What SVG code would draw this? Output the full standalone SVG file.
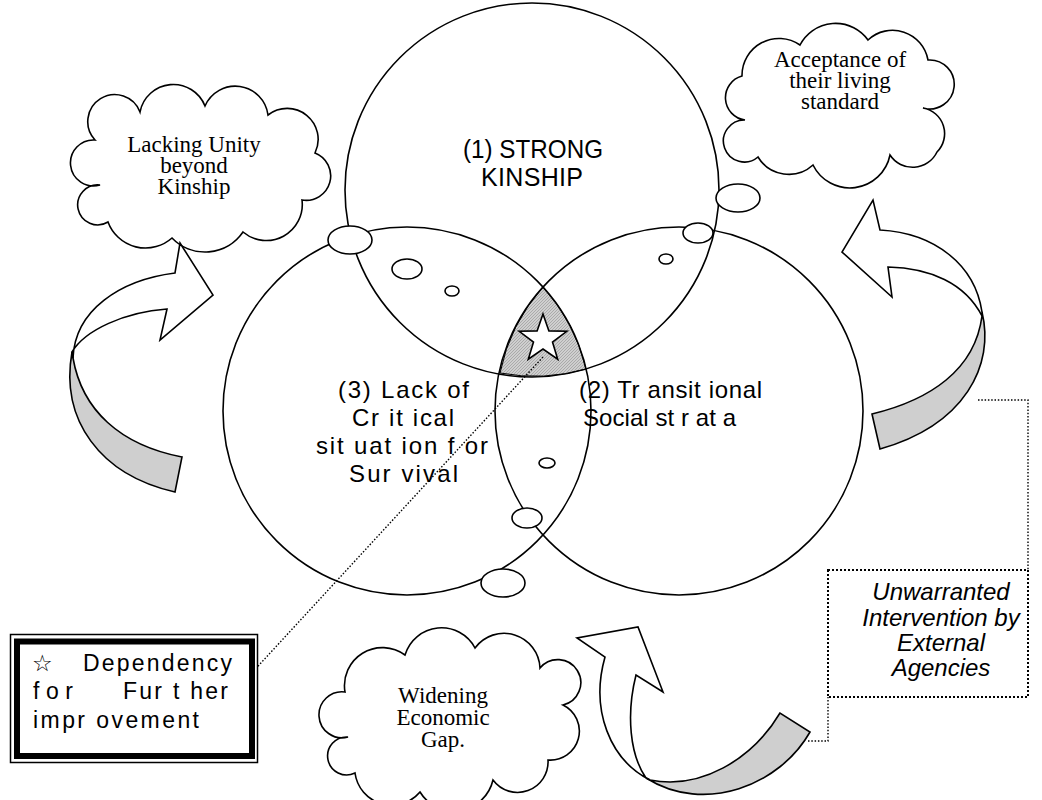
<svg xmlns="http://www.w3.org/2000/svg" width="1042" height="800" viewBox="0 0 1042 800">
<defs>
<pattern id="hatch" width="3" height="3" patternUnits="userSpaceOnUse">
<rect width="3" height="3" fill="#cfcfcf"/>
<path d="M0,3 L3,0" stroke="#9a9a9a" stroke-width="0.7"/>
</pattern>
<style>
.ln{fill:none;stroke:#000;stroke-width:1.6}
.wf{fill:#fff;stroke:#000;stroke-width:1.6}
.gb{fill:#cfcfcf;stroke:#000;stroke-width:1.6}
.dot{fill:none;stroke:#000;stroke-width:1.4;stroke-dasharray:1.5,1.8}
.dbox{fill:none;stroke:#000;stroke-width:2;stroke-dasharray:2,2}
.sans{font-family:"Liberation Sans",Arial,sans-serif;fill:#000}
.serif{font-family:"Liberation Serif","Times New Roman",serif;font-size:23px;fill:#000;text-anchor:middle}
.lbl{font-size:24px}
</style>
</defs>
<rect width="1042" height="800" fill="#fff"/>

<path id="core" d="M543,287 A184,184 0 0 0 500,373 A187,187 0 0 0 586,369 A184,184 0 0 0 543,287 Z" fill="url(#hatch)" stroke="#000" stroke-width="1"/>

<g id="circle1">
<circle class="ln" cx="532" cy="190" r="187"/>
<text class="sans" font-size="25" x="463" y="158" textLength="140" lengthAdjust="spacingAndGlyphs">(1) STRONG</text>
<text class="sans" font-size="25" x="481" y="186" textLength="102" lengthAdjust="spacing">KINSHIP</text>
</g>
<g id="circle2">
<circle class="ln" cx="679" cy="411" r="184"/>
<text class="sans lbl" x="579" y="398" textLength="183" lengthAdjust="spacing">(2) Tr ansit ional</text>
<text class="sans lbl" x="583" y="426" textLength="153" lengthAdjust="spacing">Social st r at a</text>
</g>
<g id="circle3">
<circle class="ln" cx="407" cy="411" r="184"/>
<text class="sans lbl" x="338" y="398" textLength="131" lengthAdjust="spacing">(3) Lack of</text>
<text class="sans lbl" x="352" y="426" textLength="102" lengthAdjust="spacing">Cr it ical</text>
<text class="sans lbl" x="316" y="454" textLength="172" lengthAdjust="spacing">sit uat ion f or</text>
<text class="sans lbl" x="349" y="482" textLength="109" lengthAdjust="spacing">Sur vival</text>
</g>

<g id="star">
<polygon class="wf" points="543,314 548.9,330.9 566.8,331.3 552.5,342.1 557.7,359.2 543,349 528.3,359.2 533.5,342.1 519.2,331.3 537.1,330.9"/>
</g>

<g id="bubbles">
<ellipse class="wf" cx="350" cy="240" rx="22" ry="14"/>
<ellipse class="wf" cx="407" cy="269" rx="15" ry="10"/>
<ellipse class="wf" cx="452" cy="291" rx="7" ry="5"/>
<ellipse class="wf" cx="738" cy="198" rx="22" ry="14"/>
<ellipse class="wf" cx="698" cy="233" rx="15" ry="10"/>
<ellipse class="wf" cx="666" cy="259" rx="7" ry="5"/>
<ellipse class="wf" cx="547" cy="463" rx="8" ry="5"/>
<ellipse class="wf" cx="527" cy="518" rx="15" ry="10"/>
<ellipse class="wf" cx="503" cy="583" rx="22" ry="14"/>
</g>

<g id="cloud-lacking">
<path class="wf" d="M95,140 A27,27 0 1,1 140,112 A34,34 0 0,1 205,106 A33,33 0 0,1 268,115 A31,31 0 0,1 315,153 A24.5,24.5 0 0,1 302,200 A36,36 0 0,1 243,232 A46,46 0 0,1 172,238 A40,40 0 0,1 108,222 A20,20 0 1,1 100,185 A23,23 0 1,1 95,140 Z"/>
<text class="serif" x="194" y="152">Lacking Unity</text>
<text class="serif" x="194" y="173">beyond</text>
<text class="serif" x="194" y="194">Kinship</text>
</g>
<g id="cloud-acceptance">
<path class="wf" d="M742,76 A37,37 0 0,1 800,45 A40,40 0 0,1 868,40 A36,36 0 0,1 928,60 A24.5,24.5 0 1,1 923,108 A26,26 0 0,1 937,152 A27,27 0 0,1 890,155 A41,41 0 0,1 813,165 A36,36 0 0,1 758,157 A21,21 0 1,1 745,120 A22.5,22.5 0 0,1 742,76 Z"/>
<text class="serif" x="840" y="67">Acceptance of</text>
<text class="serif" x="840" y="88">their living</text>
<text class="serif" x="840" y="109">standard</text>
</g>
<g id="cloud-widening">
<path class="wf" d="M348,737 A23,23 0 1,1 345,692 A38,38 0 0,1 405,655 A38,38 0 0,1 475,648 A36,36 0 0,1 540,668 A23,23 0 1,1 563,705 A29,29 0 0,1 548,760 A30.5,30.5 0 0,1 493,780 A40,40 0 0,1 420,792 A37,37 0 0,1 355,773 A19,19 0 1,1 348,737 Z"/>
<text class="serif" x="443" y="703">Widening</text>
<text class="serif" x="443" y="725">Economic</text>
<text class="serif" x="443" y="747">Gap.</text>
</g>

<g id="arrow-left">
<path class="gb" d="M72,352 C60,420 100,475 175,492 L182,457 C120,445 82,410 73,358 Z"/>
<path class="wf" d="M73,358 C75,310 120,280 175,273 L180,243 L213,295 L160,340 L167,309 C125,312 85,330 72,352 Z"/>
</g>
<g id="arrow-right">
<path class="gb" d="M982,312 C995,365 965,425 880,449 L872,414 C930,400 975,370 982,316 Z"/>
<path class="wf" d="M982,316 C965,283 930,268 888,267 L892,297 L842,252 L873,200 L880,230 C935,233 975,265 982,312 Z"/>
</g>
<g id="arrow-bottom">
<path class="gb" d="M650,780 C700,790 752,760 780,713 L810,732 C780,785 705,815 646,778 Z"/>
<path class="wf" d="M650,780 C610,760 590,710 605,657 L577,638 L638,627 L663,692 L636,675 C626,715 630,755 646,778 Z"/>
</g>

<g id="connectors">
<path class="dot" d="M543,357 L248,677"/>
<path class="dot" d="M978,400 H1028 V570"/>
<path class="dot" d="M808,741 H828 V697"/>
</g>

<g id="box-dependency">
<rect x="10.5" y="634.5" width="247" height="128" fill="#fff" stroke="#000" stroke-width="1.5"/>
<rect x="17" y="641.5" width="235" height="114.5" fill="none" stroke="#000" stroke-width="6"/>
<text font-family="'DejaVu Sans',sans-serif" font-size="23" x="32" y="671">☆</text>
<text class="sans" font-size="23" x="83" y="671" textLength="149" lengthAdjust="spacing">Dependency</text>
<text class="sans" font-size="23" x="33" y="699" textLength="40" lengthAdjust="spacing">for</text>
<text class="sans" font-size="23" x="123" y="699" textLength="105" lengthAdjust="spacing">Fur t her</text>
<text class="sans" font-size="23" x="33" y="728" textLength="166" lengthAdjust="spacing">impr ovement</text>
</g>

<g id="box-unwarranted">
<rect class="dbox" x="828" y="570" width="200" height="127"/>
<text class="sans" font-size="24" font-style="italic" text-anchor="middle" x="941" y="600">Unwarranted</text>
<text class="sans" font-size="24" font-style="italic" text-anchor="middle" x="941" y="626">Intervention by</text>
<text class="sans" font-size="24" font-style="italic" text-anchor="middle" x="941" y="651">External</text>
<text class="sans" font-size="24" font-style="italic" text-anchor="middle" x="941" y="676">Agencies</text>
</g>
</svg>
